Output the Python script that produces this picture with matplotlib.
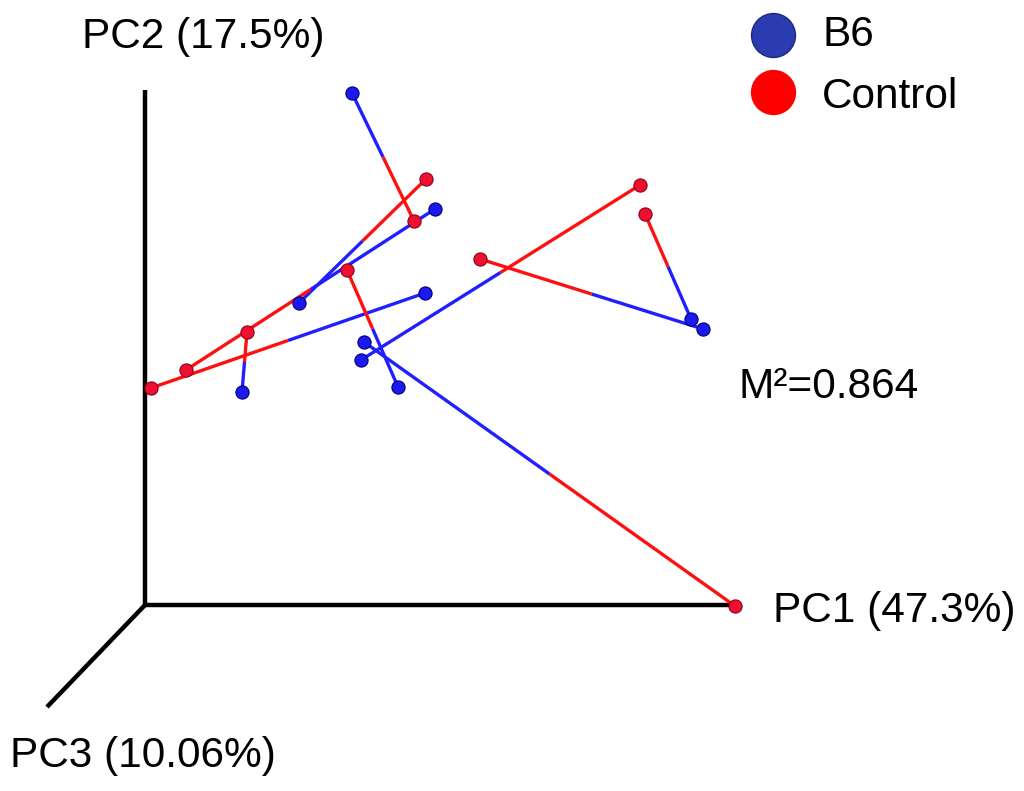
import matplotlib
matplotlib.use("Agg")
import matplotlib.pyplot as plt

plt.rcParams['font.family'] = ['Liberation Sans', 'DejaVu Sans']

# Procrustes-projected coordinates (PC1, PC2 projection), paired by index
groups = ["B6", "Control"]
group_colors = ["#1a1aee", "#ee1030"]
line_colors = ["#1f1fff", "#ff1010"]

b6_x = [2.07, 1.54, 2.90, 2.80, 0.97, 2.53, 2.19, 2.16, 5.58, 5.46]
b6_y = [5.12, 3.02, 3.96, 3.12, 2.13, 2.18, 2.63, 2.45, 2.76, 2.86]
ctrl_x = [2.69, 2.81, 0.41, 0.06, 1.02, 2.02, 5.90, 4.95, 3.35, 5.00]
ctrl_y = [3.84, 4.26, 2.35, 2.17, 2.73, 3.35, -0.01, 4.20, 3.46, 3.91]

axis_labels = ["PC1 (47.3%)", "PC2 (17.5%)", "PC3 (10.06%)"]
m2_text = "M²=0.864"

fig = plt.figure(figsize=(10.24, 7.91), dpi=100)
ax = fig.add_axes([0, 0, 1, 1])
ax.set_xlim(-1.45, 8.79)
ax.set_ylim(-1.86, 6.05)
ax.axis('off')

# 3D axes frame
ax.plot([0, 0], [0, 5.15], color='black', lw=3.2, solid_capstyle='butt', zorder=1)
ax.plot([0, 5.9], [0, 0], color='black', lw=3.2, solid_capstyle='butt', zorder=1)
ax.plot([0, -0.98], [0, -1.02], color='black', lw=3.2, solid_capstyle='butt', zorder=1)

# Procrustes connecting lines: half B6 colour, half Control colour
for bx, by, cx, cy in zip(b6_x, b6_y, ctrl_x, ctrl_y):
    mx, my = (bx + cx) / 2, (by + cy) / 2
    ax.plot([bx, mx], [by, my], color=line_colors[0], lw=2.4, zorder=2,
            solid_capstyle='butt')
    ax.plot([mx, cx], [my, cy], color=line_colors[1], lw=2.4, zorder=2,
            solid_capstyle='butt')

ax.scatter(b6_x, b6_y, s=90, color=group_colors[0], edgecolors='#00007a',
           linewidths=0.8, zorder=3)
ax.scatter(ctrl_x, ctrl_y, s=90, color=group_colors[1], edgecolors='#8a0018',
           linewidths=0.8, zorder=3)

fs = 30.5
ax.text(773 / 1024, 1 - 622 / 791, axis_labels[0], transform=ax.transAxes,
        fontsize=fs, ha='left', va='baseline')
ax.text(82 / 1024, 1 - 48 / 791, axis_labels[1], transform=ax.transAxes,
        fontsize=fs, ha='left', va='baseline')
ax.text(10 / 1024, 1 - 767 / 791, axis_labels[2], transform=ax.transAxes,
        fontsize=fs, ha='left', va='baseline')
ax.text(738 / 1024, 1 - 398 / 791, m2_text, transform=ax.transAxes,
        fontsize=fs, ha='left', va='baseline')

# Legend
leg_y = [1 - 35 / 791, 1 - 92 / 791]
leg_base = [1 - 46 / 791, 1 - 108 / 791]
leg_face = ["#2b3cb0", "#ff0000"]
leg_edge = ["#1a2a80", "#ff0000"]
for name, yc, yb, fc, ec in zip(groups, leg_y, leg_base, leg_face, leg_edge):
    ax.scatter([773 / 1024], [yc], s=1000, color=fc, edgecolors=ec,
               linewidths=1.0, transform=ax.transAxes, zorder=4, clip_on=False)
    ax.text(822 / 1024, yb, name, transform=ax.transAxes, fontsize=fs,
            ha='left', va='baseline')

fig.savefig("out.png", dpi=100)
